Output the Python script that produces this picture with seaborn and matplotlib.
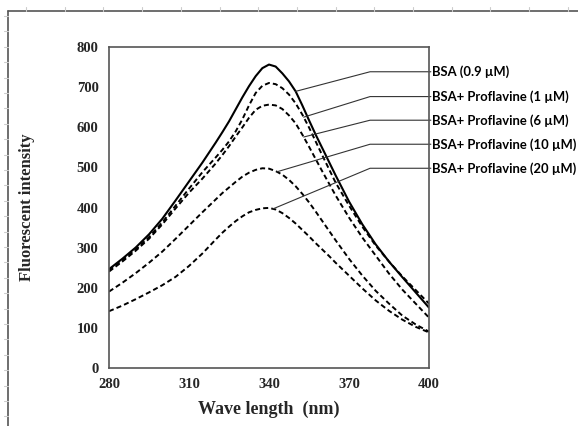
import numpy as np
import pandas as pd
import matplotlib
matplotlib.use("Agg")
import matplotlib.pyplot as plt
from matplotlib.lines import Line2D
import seaborn as sns

# ---------------------------------------------------------------
# data
wavelength = [280, 285, 290, 295, 300, 305, 310, 315, 320,
              322.5, 325, 327.5, 330, 332.5, 335, 337.5, 340, 342.5, 345,
              347.5, 350, 352.5, 355, 357.5, 360, 362.5, 365,
              370, 375, 380, 385, 390, 395, 400]

bsa = [246, 272, 300, 333, 372, 418, 465, 512, 562,
       588, 615, 645, 675, 703, 728, 748, 757, 752, 735,
       715, 690, 655, 618, 582, 548, 514, 480,
       415, 358, 308, 265, 226, 188, 150]
pf_1 = [243, 268, 295, 326, 363, 405, 447, 488, 525,
        544, 565, 590, 620, 655, 686, 704, 711, 708, 698,
        682, 660, 632, 600, 565, 530, 496, 462,
        405, 352, 305, 265, 228, 194, 160]
pf_6 = [240, 265, 292, 322, 358, 398, 437, 472, 510,
        531, 553, 577, 600, 624, 644, 654, 657, 655, 646,
        630, 610, 582, 552, 521, 490, 460, 430,
        375, 325, 280, 235, 195, 160, 125]
pf_10 = [190, 212, 236, 262, 290, 322, 355, 388, 420,
         436, 450, 464, 477, 487, 494, 498, 497, 491, 482,
         469, 453, 434, 413, 390, 366, 342, 318,
         272, 230, 192, 160, 130, 108, 90]
pf_20 = [141, 155, 171, 188, 206, 227, 254, 285, 320,
         337, 352, 366, 378, 388, 394, 398, 399, 395, 386,
         374, 360, 344, 328, 311, 295, 279, 262,
         230, 198, 168, 142, 120, 102, 88]

labels = ["BSA (0.9 µM)", "BSA+ Proflavine (1 µM)", "BSA+ Proflavine (6 µM)",
          "BSA+ Proflavine (10 µM)", "BSA+ Proflavine (20 µM)"]
series = [bsa, pf_1, pf_6, pf_10, pf_20]
# where each leader line touches its curve (nm)
anchor_wl = [350, 353, 353, 343, 341.5]
# label heights in data units
label_y = [739, 677, 618, 558, 498]

xticks = [280, 310, 340, 370, 400]
yticks = list(range(0, 801, 100))

# ---------------------------------------------------------------
sns.set_style("white")
plt.rcParams["font.family"] = ["Liberation Serif", "DejaVu Serif"]

fig = plt.figure(figsize=(5.78, 4.26), dpi=100)
ax = fig.add_axes([0.1886, 0.1369, 0.5536, 0.752])

df = pd.DataFrame({"wl": wavelength})
for lab, vals in zip(labels, series):
    df[lab] = vals

for i, lab in enumerate(labels):
    if i == 0:
        sns.lineplot(data=df, x="wl", y=lab, ax=ax, color="black", lw=1.5)
    else:
        sns.lineplot(data=df, x="wl", y=lab, ax=ax, color="black", lw=1.4,
                     linestyle=(0, (2.6, 1.6)))

# leader lines + labels
for lab, vals, awl, ly in zip(labels, series, anchor_wl, label_y):
    ay = np.interp(awl, wavelength, vals)
    ax.plot([awl, 377.9, 400.7], [ay, ly, ly], color="#333333", lw=0.8,
            clip_on=False)
    ax.text(401.0, ly, lab, ha="left", va="center", fontsize=9.4,
            fontweight="bold", family=["Lato", "DejaVu Sans"], color="black")

ax.set_xlim(280, 400)
ax.set_ylim(0, 800)
ax.set_xticks(xticks)
ax.set_yticks(yticks)
ax.set_xticklabels([str(t) for t in xticks], fontsize=10.5, fontweight="bold")
ax.set_yticklabels([str(t) for t in yticks], fontsize=10.5, fontweight="bold")
ax.tick_params(direction="inout", length=7, width=1, color="#555555", pad=4)
for sp in ax.spines.values():
    sp.set_visible(True)
    sp.set_color("#555555")
    sp.set_linewidth(1.2)

ax.set_xlabel("Wave length  (nm)", fontsize=13, fontweight="bold", labelpad=7)
ax.set_ylabel("Fluorescent intensity", fontsize=12, fontweight="bold", labelpad=30)

# outer frame of the original page
fig.add_artist(Line2D([8 / 578, 8 / 578], [0, 1 - 11 / 426], color="#555555", lw=1.2))
fig.add_artist(Line2D([8 / 578, 1], [1 - 11 / 426, 1 - 11 / 426], color="#555555", lw=1.2))
for px in np.arange(26, 578, 38.7):
    fig.add_artist(Line2D([px / 578, px / 578], [1 - 7 / 426, 1 - 11 / 426],
                          color="#cccccc", lw=0.8))
for py in np.arange(16, 426, 15.4):
    fig.add_artist(Line2D([4 / 578, 8 / 578], [1 - py / 426, 1 - py / 426],
                          color="#cccccc", lw=0.8))

fig.savefig("out.png", dpi=100)
